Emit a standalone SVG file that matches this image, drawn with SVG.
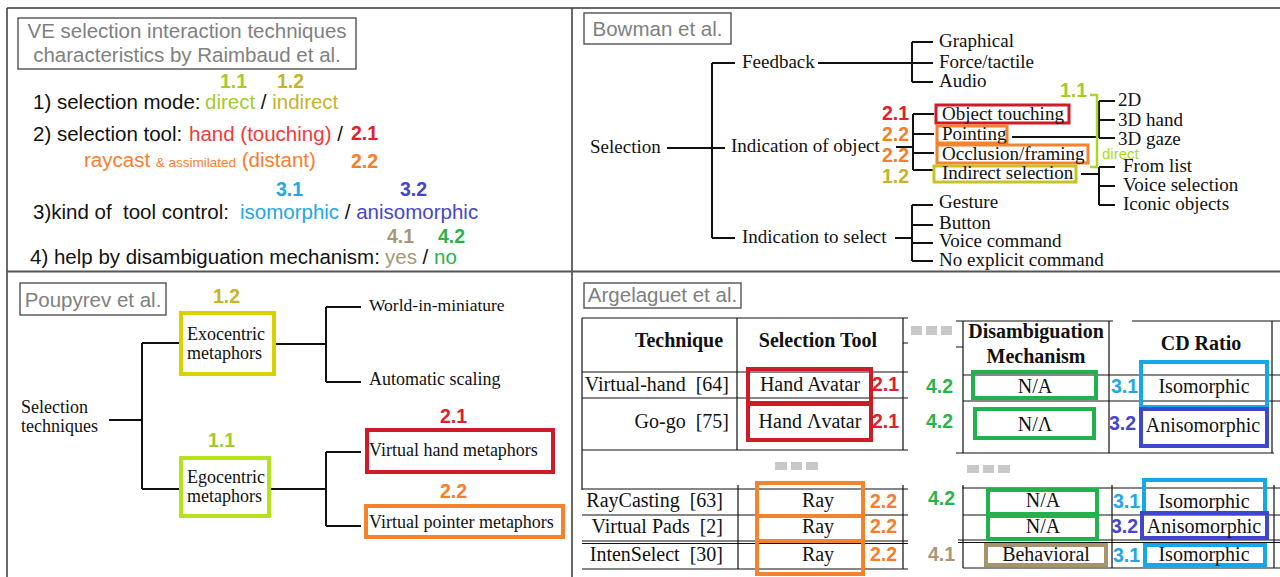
<svg xmlns="http://www.w3.org/2000/svg" width="1280" height="577" viewBox="0 0 1280 577">
<style>
.frame{stroke:#3a3a3a;stroke-width:1.5;fill:none}
.tbox{fill:#fff;stroke:#444;stroke-width:1.3}
.ttl{font-family:"Liberation Sans",Arial,sans-serif;font-size:20.5px;fill:#808080}
.sans{font-family:"Liberation Sans",Arial,sans-serif;font-size:20.5px;fill:#111}
.lbl{font-family:"Liberation Sans",Arial,sans-serif;font-weight:bold;font-size:19.5px}
.ser{font-family:"Liberation Serif","Times New Roman",serif;font-size:19px;fill:#111}
.pser{font-family:"Liberation Serif","Times New Roman",serif;font-size:18px;fill:#111}
.tser{font-family:"Liberation Serif","Times New Roman",serif;font-size:20px;fill:#111}
.thd{font-family:"Liberation Serif","Times New Roman",serif;font-size:20px;font-weight:bold;fill:#111}
.tree{stroke:#111;stroke-width:2;fill:none}
.tl{stroke:#111;stroke-width:1.2;fill:none}
.bx{fill:none;stroke-width:3}
.bx4{fill:none;stroke-width:4}
.c11{fill:#a2cc2a}.c12{fill:#c4b42a}.c21{fill:#e3202a}.c22{fill:#f77d2b}
.c31{fill:#1fa7e6}.c32{fill:#4646cc}.c41{fill:#a89677}.c42{fill:#2bb24b}
.sred{stroke:#cf1b27}.sora{stroke:#f5822d}.solv{stroke:#c9c225}.syel{stroke:#dcd100}.slime{stroke:#b5e11d}
.sgrn{stroke:#22b14c}.sblu{stroke:#14a8e6}.sind{stroke:#3f48cc}.stan{stroke:#a8946c}
.dots{fill:#c8c8c8}
.mid{text-anchor:middle}.end{text-anchor:end}
</style>

<g id="frame">
<path class="frame" d="M7,8 H1280 M7,8 V577 M572,8 V577"/>
<path d="M7,271.5 H1280" stroke="#555" stroke-width="2" fill="none"/>
</g>

<!-- Top-left panel -->
<g id="raimbaud">
<g id="raimbaud-title">
<rect class="tbox" x="18" y="18" width="338" height="51"/>
<text class="ttl mid" x="187" y="38">VE selection interaction techniques</text>
<text class="ttl mid" x="187" y="62">characteristics by Raimbaud et al.</text>
</g>
<g id="crit1">
<text class="lbl c11" x="220" y="88">1.1</text>
<text class="lbl c12" x="277" y="88">1.2</text>
<text class="sans" x="33" y="109">1) selection mode: <tspan x="205" class="c11">direct</tspan> / <tspan class="c12">indirect</tspan></text>
</g>
<g id="crit2">
<text class="sans" x="33" y="141">2) selection tool: <tspan x="189" fill="#f23a3a">hand (touching)</tspan> /</text>
<text class="lbl c21" x="351" y="140">2.1</text>
<text class="sans" x="84" y="167" style="fill:#fb7d2c">raycast <tspan font-size="13.5px">&amp; assimilated</tspan> (distant)</text>
<text class="lbl c22" x="351" y="168">2.2</text>
</g>
<g id="crit3">
<text class="lbl c31" x="276" y="196">3.1</text>
<text class="lbl c32" x="400" y="196">3.2</text>
<text class="sans" x="33" y="219" xml:space="preserve">3)kind of  tool control: <tspan x="240" class="c31">isomorphic</tspan> / <tspan class="c32">anisomorphic</tspan></text>
</g>
<g id="crit4">
<text class="lbl c41" x="387" y="243">4.1</text>
<text class="lbl c42" x="438" y="243">4.2</text>
<text class="sans" x="30" y="264">4) help by disambiguation mechanism: <tspan x="385" class="c41">yes</tspan> / <tspan class="c42">no</tspan></text>
</g>
</g>

<!-- Top-right panel: Bowman -->
<g id="bowman">
<g id="bowman-title">
<rect class="tbox" x="584" y="13" width="147" height="31"/>
<text class="ttl mid" x="657.5" y="36">Bowman et al.</text>
</g>
<g id="bowman-connectors">
<path class="tree" d="M667,148 H725 M712,63 V238 M712,63 H735 M712,238 H735"/>
<path class="tree" d="M818,63 H912 M912,42 V82 M912,42 H933 M912,63 H933 M912,82 H933"/>
<path class="tree" d="M896,147 H913 M913,114 V170 M913,114 H934 M913,134 H934 M913,153 H934 M913,170 H934"/>
<path class="tree" d="M1012,137 H1099 M1099,101 V138 M1099,101 H1115 M1099,120 H1115 M1099,138 H1115"/>
<path class="tree" d="M1081,174 H1099 M1099,167 V205 M1099,167 H1115 M1099,186 H1115 M1099,205 H1115"/>
<path class="tree" d="M895,238 H912 M912,205 V261 M912,205 H933 M912,225 H933 M912,243 H933 M912,261 H933"/>
</g>
<g id="b-selection"><text class="ser" x="590" y="153">Selection</text></g>
<g id="b-feedback"><text class="ser" x="742" y="68">Feedback</text></g>
<g id="b-indobj"><text class="ser" x="731" y="152">Indication of object</text></g>
<g id="b-indsel"><text class="ser" x="742" y="243">Indication to select</text></g>
<g id="b-graphical"><text class="ser" x="939" y="47">Graphical</text></g>
<g id="b-force"><text class="ser" x="939" y="68">Force/tactile</text></g>
<g id="b-audio"><text class="ser" x="939" y="87">Audio</text></g>
<g id="b-touch"><rect class="bx sred" x="936" y="105" width="133" height="18"/><text class="ser" x="942" y="120">Object touching</text><text class="lbl c21" x="882" y="120">2.1</text></g>
<g id="b-point"><rect class="bx sora" x="937" y="126" width="70" height="17"/><text class="ser" x="942" y="140">Pointing</text><text class="lbl c22" x="882" y="141">2.2</text></g>
<g id="b-occl"><rect class="bx sora" x="937" y="145" width="151" height="18"/><text class="ser" x="942" y="160">Occlusion/framing</text><text class="lbl c22" x="882" y="162">2.2</text></g>
<g id="b-indirect"><rect class="bx solv" x="934" y="166" width="142" height="16"/><text class="ser" x="942" y="179">Indirect selection</text><text class="lbl c12" x="882" y="183">1.2</text></g>
<g id="b-direct"><path d="M1090,95 H1097 V167 H1090" fill="none" stroke="#abd91f" stroke-width="2.5"/><text class="lbl c11" x="1060" y="97">1.1</text><text x="1102" y="159" font-family="Liberation Sans, Arial, sans-serif" font-size="15px" fill="#abd91f">direct</text></g>
<g id="b-2d"><text class="ser" x="1118" y="106">2D</text></g>
<g id="b-3dhand"><text class="ser" x="1118" y="126">3D hand</text></g>
<g id="b-3dgaze"><text class="ser" x="1118" y="145">3D gaze</text></g>
<g id="b-fromlist"><text class="ser" x="1123" y="172">From list</text></g>
<g id="b-voicesel"><text class="ser" x="1123" y="191">Voice selection</text></g>
<g id="b-iconic"><text class="ser" x="1123" y="210">Iconic objects</text></g>
<g id="b-gesture"><text class="ser" x="939" y="208">Gesture</text></g>
<g id="b-button"><text class="ser" x="939" y="229">Button</text></g>
<g id="b-voicecmd"><text class="ser" x="939" y="247">Voice command</text></g>
<g id="b-noexpl"><text class="ser" x="939" y="266">No explicit command</text></g>
</g>

<!-- Bottom-left panel: Poupyrev -->
<g id="poupyrev">
<g id="poupyrev-title">
<rect class="tbox" x="20" y="283" width="146" height="32"/>
<text class="ttl mid" x="93" y="307">Poupyrev et al.</text>
</g>
<g id="p-connectors">
<path class="tree" d="M109,420 H142 M142,343 V489 M142,343 H179 M142,489 H179"/>
<path class="tree" d="M275,344 H326 M326,307 V382 M326,307 H361 M326,382 H361"/>
<path class="tree" d="M271,489 H326 M326,452 V526 M326,452 H361 M326,526 H361"/>
</g>
<g id="p-selection"><text class="pser" x="21" y="413">Selection</text><text class="pser" x="21" y="432">techniques</text></g>
<g id="p-exo"><rect class="bx4 syel" x="181" y="313" width="93" height="61"/><text class="pser" x="187" y="340">Exocentric</text><text class="pser" x="187" y="359">metaphors</text><text class="lbl c12" x="213" y="303">1.2</text></g>
<g id="p-ego"><rect class="bx4 slime" x="181" y="458" width="88" height="58"/><text class="pser" x="187" y="483">Egocentric</text><text class="pser" x="187" y="502">metaphors</text><text class="lbl c11" x="208" y="447">1.1</text></g>
<g id="p-wim"><text class="pser" x="369" y="311" style="font-size:17.5px">World-in-miniature</text></g>
<g id="p-autoscale"><text class="pser" x="369" y="385">Automatic scaling</text></g>
<g id="p-vhand"><rect class="bx4 sred" x="367" y="430" width="186" height="42"/><text class="pser" x="369" y="456">Virtual hand metaphors</text><text class="lbl c21" x="440" y="423">2.1</text></g>
<g id="p-vpointer"><rect class="bx4 sora" x="366" y="506" width="197" height="31"/><text class="pser" x="369" y="528">Virtual pointer metaphors</text><text class="lbl c22" x="440" y="498">2.2</text></g>
</g>

<!-- Bottom-right panel: Argelaguet -->
<g id="argelaguet">
<g id="argelaguet-title">
<rect class="tbox" x="584" y="283" width="157" height="25"/>
<text class="ttl mid" x="662.5" y="302">Argelaguet et al.</text>
</g>
<g id="table-lines">
<path class="tl" d="M582,318 H908 M582,318 V490 M737,318 V450 M903,318 V450 M903,343 H908 M582,372 H908 M582,398 H908 M582,450 H908"/>
<path class="tl" d="M582,489 H908 M582,515 H908 M582,541 H908 M582,543.5 H908 M582,569 H908 M738,485 V569 M903,485 V569"/>
<path class="tl" d="M956,321 H1113 M1132,321 H1280 M956,347 H963 M963,321 V453 M1109,321 V453 M1272,321 V453 M963,375 H1280 M963,401 H1280 M956,453 H1274"/>
<path class="tl" d="M962,488 H1280 M963,515 H1280 M958,540 H1280 M958,542.5 H1280 M963,568 H1280 M963,485 V568 M1112,485 V568 M1274,485 V568"/>
</g>
<g id="ellipses">
<rect class="dots" x="911" y="326" width="11" height="9"/><rect class="dots" x="926" y="326" width="11" height="9"/><rect class="dots" x="941" y="326" width="11" height="9"/>
<rect class="dots" x="775" y="462" width="12" height="8"/><rect class="dots" x="791" y="462" width="11" height="8"/><rect class="dots" x="806" y="462" width="12" height="8"/>
<rect class="dots" x="967" y="465" width="12" height="8"/><rect class="dots" x="983" y="465" width="11" height="8"/><rect class="dots" x="998" y="465" width="12" height="8"/>
</g>
<g id="headers">
<text class="thd mid" x="679" y="347">Technique</text>
<text class="thd mid" x="818" y="347">Selection Tool</text>
<text class="thd mid" x="1036" y="338">Disambiguation</text>
<text class="thd mid" x="1036" y="363">Mechanism</text>
<text class="thd mid" x="1201" y="350">CD Ratio</text>
</g>
<g id="row-virtualhand">
<text class="tser end" x="729" y="391" xml:space="preserve">Virtual-hand  [64]</text>
<rect class="bx4 sred" x="748" y="369" width="123" height="34"/><text class="tser mid" x="810" y="391">Hand Avatar</text><text class="lbl c21" x="872" y="391">2.1</text>
<text class="lbl c42" x="926" y="393">4.2</text><rect class="bx4 sgrn" x="973" y="372" width="123" height="26"/><text class="tser mid" x="1035" y="393">N/A</text>
<text class="lbl c31" x="1111" y="393">3.1</text><rect class="bx4 sblu" x="1141" y="362" width="126" height="45"/><text class="tser mid" x="1204" y="393">Isomorphic</text>
</g>
<g id="row-gogo">
<text class="tser end" x="729" y="428" xml:space="preserve">Go-go  [75]</text>
<rect class="bx4 sred" x="748" y="404" width="123" height="36"/><text class="tser mid" x="810" y="428">Hand Λvatar</text><text class="lbl c21" x="872" y="428">2.1</text>
<text class="lbl c42" x="926" y="428">4.2</text><rect class="bx4 sgrn" x="975" y="409" width="119" height="29"/><text class="tser mid" x="1035" y="431">N/Λ</text>
<text class="lbl c32" x="1109" y="430">3.2</text><rect class="bx4 sind" x="1141" y="409" width="126" height="37"/><text class="tser mid" x="1203" y="432">Anisomorphic</text>
</g>
<g id="row-raycasting">
<text class="tser end" x="723" y="507" xml:space="preserve">RayCasting  [63]</text>
<rect class="bx4 sora" x="757" y="483" width="106" height="33"/><text class="tser mid" x="818" y="507">Ray</text><text class="lbl c22" x="870" y="508">2.2</text>
<text class="lbl c42" x="928" y="505">4.2</text><rect class="bx4 sgrn" x="988" y="490" width="109" height="24"/><text class="tser mid" x="1043" y="507">N/A</text>
<text class="lbl c31" x="1113" y="508">3.1</text><rect class="bx4 sblu" x="1144" y="480" width="121" height="33"/><text class="tser mid" x="1204" y="508">Isomorphic</text>
</g>
<g id="row-virtualpads">
<text class="tser end" x="723" y="533" xml:space="preserve">Virtual Pads  [2]</text>
<rect class="bx4 sora" x="757" y="516" width="106" height="25"/><text class="tser mid" x="818" y="533">Ray</text><text class="lbl c22" x="870" y="533">2.2</text>
<rect class="bx4 sgrn" x="988" y="516" width="109" height="23"/><text class="tser mid" x="1043" y="533">N/A</text>
<text class="lbl c32" x="1111" y="533">3.2</text><rect class="bx4 sind" x="1142" y="513" width="125" height="25"/><text class="tser mid" x="1204" y="533">Anisomorphic</text>
</g>
<g id="row-intenselect">
<text class="tser end" x="723" y="561" xml:space="preserve">IntenSelect  [30]</text>
<rect class="bx4 sora" x="757" y="541" width="106" height="33"/><text class="tser mid" x="818" y="561">Ray</text><text class="lbl c22" x="870" y="561">2.2</text>
<text class="lbl c41" x="928" y="561">4.1</text><rect class="bx4 stan" x="986" y="545" width="120" height="20"/><text class="tser mid" x="1046" y="561">Behavioral</text>
<text class="lbl c31" x="1113" y="562">3.1</text><rect class="bx4 sblu" x="1145" y="545" width="120" height="20"/><text class="tser mid" x="1204" y="561">Isomorphic</text>
</g>
</g>
</svg>
